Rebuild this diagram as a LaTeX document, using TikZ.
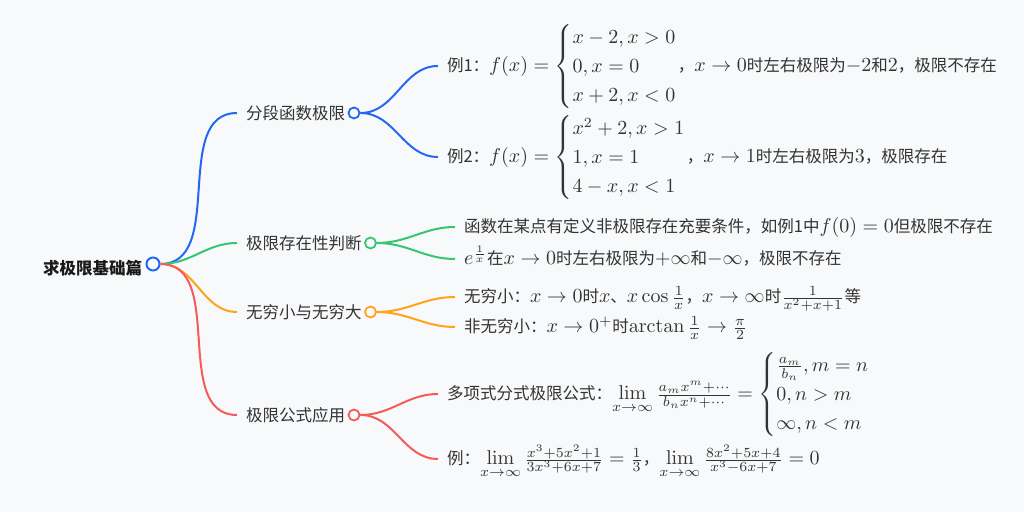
\documentclass[tikz,border=0pt]{standalone}
\usepackage{amsmath}
\usepackage[no-math]{fontspec}
\setmainfont{Noto Sans CJK SC}[Scale=0.825]
\usepackage{tikz}
\usetikzlibrary{calc, positioning}

\definecolor{bg}{HTML}{F8F9FA}
\definecolor{ink}{HTML}{333333}
\definecolor{cblue}{HTML}{2468F2}
\definecolor{cgreen}{HTML}{36C672}
\definecolor{corange}{HTML}{FFA31A}
\definecolor{cred}{HTML}{F45B5B}

\newcommand{\brcases}[1]{\left\{\renewcommand{\arraystretch}{1.2}\begin{array}{@{}l@{}}#1\end{array}\right.}

\tikzset{
  dot/.style={circle, draw=#1, fill=bg, line width=0.9pt, inner sep=0pt, minimum size=5.5pt},
  topic/.style={anchor=west, inner xsep=4.5pt, inner ysep=0pt, outer sep=0pt, text=ink},
  leaf/.style={anchor=base west, inner xsep=4.5pt, inner ysep=0pt, outer sep=0pt, text=ink},
  link/.style={draw=#1, line width=1pt, out=0, in=180},
}

\begin{document}
\begin{tikzpicture}[x=0.5pt, y=-0.5pt]
\fill[bg] (0,0) rectangle (1024,512);
\useasboundingbox (0,0) rectangle (1024,512);

% root
\node[dot=cblue, minimum size=6.5pt, line width=1pt] (root) at (153,264) {};
\node[left=1.5pt of root, yshift=-2pt, inner sep=0pt, text=black!90, font=\bfseries] (root-t) {求极限基础篇};

% first level
\node[topic] (seg) at (237,113) {分段函数极限};
\node[topic] (exist) at (237,243) {极限存在性判断};
\node[topic] (inf) at (237,312) {无穷小与无穷大};
\node[topic] (rule) at (237,415) {极限公式应用};

% second level
\node[leaf] (ex1) at (438,72) {例1：$f(x)=\brcases{x-2,x>0\\0,x=0\\x+2,x<0}$，$x\to0$时左右极限为$-2$和$2$，极限不存在};
\node[leaf] (ex2) at (438,163) {例2：$f(x)=\brcases{x^2+2,x>1\\1,x=1\\4-x,x<1}$，$x\to1$时左右极限为$3$，极限存在};
\node[leaf] (def) at (455,233) {函数在某点有定义非极限存在充要条件，如例1中$f(0)=0$但极限不存在};
\node[leaf] (expo) at (455,265) {$e^{\frac{1}{x}}$在$x\to0$时左右极限为$+\infty$和$-\infty$，极限不存在};
\node[leaf] (small) at (455,303) {无穷小：$x\to0$时$x$、$x\cos\frac{1}{x}$，$x\to\infty$时$\frac{1}{x^2+x+1}$等};
\node[leaf] (nsmall) at (455,333) {非无穷小：$x\to0^+$时$\arctan\frac{1}{x}\to\frac{\pi}{2}$};
\node[leaf] (poly) at (438,400) {多项式分式极限公式：$\lim\limits_{x\to\infty}\frac{a_mx^m+\cdots}{b_nx^n+\cdots}=\brcases{\frac{a_m}{b_n},m=n\\0,n>m\\\infty,n<m}$};
\node[leaf] (lim) at (438,465) {例：$\lim\limits_{x\to\infty}\frac{x^3+5x^2+1}{3x^3+6x+7}=\frac{1}{3}$，$\lim\limits_{x\to\infty}\frac{8x^2+5x+4}{x^3-6x+7}=0$};

\foreach \a/\c in {seg/cblue, exist/cgreen, inf/corange, rule/cred}
    \node[dot=\c] (\a-o) at (\a.east) {};

\foreach \b/\c in {seg/cblue, exist/cgreen, inf/corange, rule/cred}
    \draw[link=\c] (root.east) to (\b.west);
\foreach \a/\b/\c in {seg/ex1/cblue, seg/ex2/cblue, exist/def/cgreen, exist/expo/cgreen,
                      inf/small/corange, inf/nsmall/corange, rule/poly/cred, rule/lim/cred}
    \draw[link=\c] (\a-o.east) to ([yshift=3pt]\b.base west);

\end{tikzpicture}
\end{document}
